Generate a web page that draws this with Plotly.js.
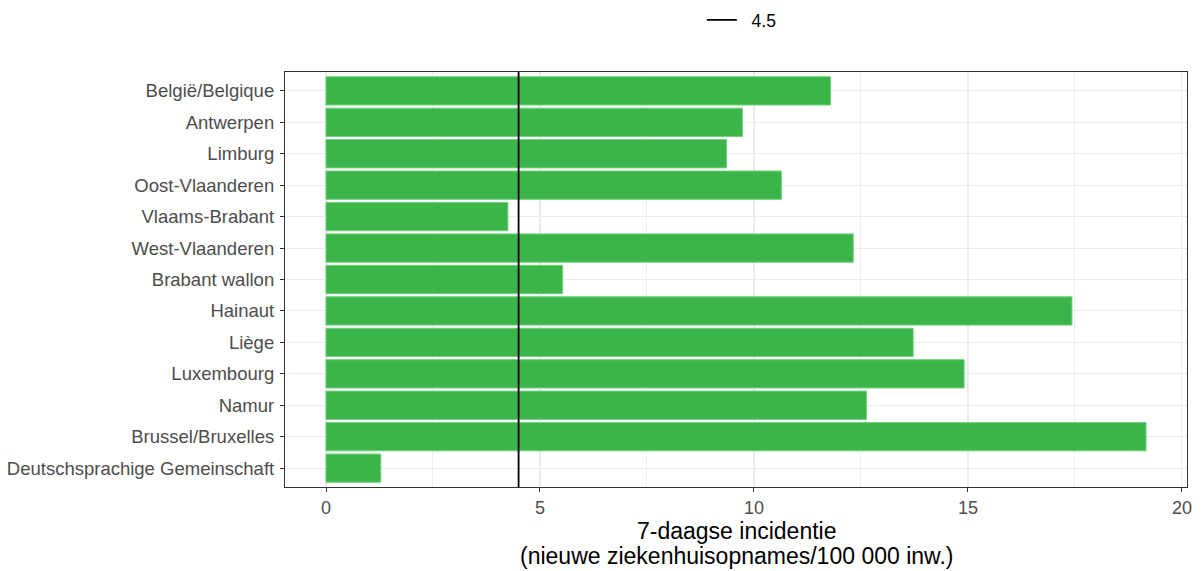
<!DOCTYPE html>
<html>
<head>
<meta charset="utf-8">
<script src="https://cdn.plot.ly/plotly-3.0.1.min.js"></script>
<style>html,body{margin:0;padding:0;background:#fff;}#chart{width:1203px;height:571px;}</style>
</head>
<body>
<div id="chart"></div>
<script>
const regions = ["België/Belgique","Antwerpen","Limburg","Oost-Vlaanderen","Vlaams-Brabant","West-Vlaanderen","Brabant wallon","Hainaut","Liège","Luxembourg","Namur","Brussel/Bruxelles","Deutschsprachige Gemeinschaft"];
const incidence = [11.79,9.73,9.36,10.64,4.25,12.32,5.53,17.43,13.72,14.91,12.63,19.16,1.28];
const threshold = 4.5;
const thresholdLabel = "4.5";
const xTitleLines = ["7-daagse incidentie", "(nieuwe ziekenhuisopnames/100 000 inw.)"];

const font = "Liberation Sans, Arial, sans-serif";
const maxV = Math.max(...incidence);
const pad = 0.05 * maxV;

const traces = [
  {
    type: "bar", orientation: "h",
    x: incidence, y: regions,
    width: 0.9,
    marker: {color: "#3bb54a", line: {color: "#6fd27b", width: 1}},
    showlegend: false, hoverinfo: "x+y"
  },
  {
    type: "scatter", mode: "lines",
    x: [threshold, threshold], y: [0, 1],
    yaxis: "y2",
    line: {color: "#000000", width: 1.8},
    name: "\u00a0\u00a0" + thresholdLabel, showlegend: true
  }
];

const H = 571, T = 72, B = 84;
const plotH = H - T - B;
const titleY = [531, 556];

const layout = {
  width: 1203, height: H,
  margin: {l: 285, r: 16, t: T, b: B, autoexpand: false},
  paper_bgcolor: "#ffffff", plot_bgcolor: "#ffffff",
  font: {family: font, color: "#4d4d4d", size: 18.5},
  bargap: 0.1,
  xaxis: {
    range: [-pad, maxV + pad],
    tickvals: [0, 5, 10, 15, 20],
    ticks: "outside", ticklen: 4, tickcolor: "#333333", tickwidth: 1,
    tickfont: {size: 18, color: "#4d4d4d", family: font},
    showgrid: true, gridcolor: "#ebebeb", gridwidth: 1.1,
    minor: {tickvals: [2.5, 7.5, 12.5, 17.5], showgrid: true, gridcolor: "#ebebeb", gridwidth: 0.8, ticks: ""},
    zeroline: false,
    showline: true, mirror: true, linecolor: "#333333", linewidth: 1.1,
    automargin: false
  },
  yaxis: {
    type: "category",
    categoryorder: "array", categoryarray: regions,
    range: [regions.length - 0.4, -0.6],
    ticks: "outside", ticklen: 4, tickcolor: "#333333", tickwidth: 1,
    tickfont: {size: 18.5, color: "#4d4d4d", family: font},
    ticklabelstandoff: 2,
    showgrid: true, gridcolor: "#ebebeb", gridwidth: 1.1,
    zeroline: false,
    automargin: false,
    showline: true, mirror: true, linecolor: "#333333", linewidth: 1.1
  },
  yaxis2: {
    overlaying: "y", range: [0, 1], visible: false, fixedrange: true
  },
  annotations: xTitleLines.map((t, i) => ({
    text: t, xref: "paper", yref: "paper",
    x: 0.5, xanchor: "center",
    y: -(titleY[i] - (H - B)) / plotH, yanchor: "middle",
    showarrow: false,
    font: {size: 23, color: "#000000", family: font}
  })),
  legend: {
    orientation: "h", x: 0.5065, xanchor: "center",
    yref: "container", y: 1 - 20 / H, yanchor: "middle",
    font: {size: 17.5, color: "#000000", family: font},
    bgcolor: "rgba(0,0,0,0)"
  }
};

Plotly.newPlot("chart", traces, layout, {displayModeBar: false, staticPlot: true});
</script>
</body>
</html>
